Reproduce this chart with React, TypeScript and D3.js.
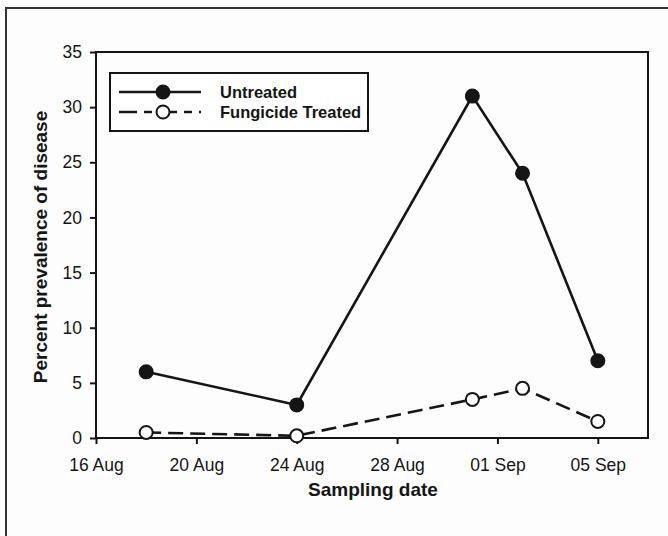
import React, { useEffect, useRef } from 'react';
import * as d3 from 'd3';

const sampleDates = ['2009-08-18', '2009-08-24', '2009-08-31', '2009-09-02', '2009-09-05'];
const untreated = [6, 3, 31, 24, 7];
const fungicideTreated = [0.5, 0.2, 3.5, 4.5, 1.5];
const xTickDates = ['2009-08-16', '2009-08-20', '2009-08-24', '2009-08-28', '2009-09-01', '2009-09-05'];
const yTicks = [0, 5, 10, 15, 20, 25, 30, 35];

const parse = d3.timeParse('%Y-%m-%d');

const App = () => {
  const svgRef = useRef(null);

  useEffect(() => {
    const svg = d3.select(svgRef.current);
    const width = 668;
    const height = 536;
    const margin = { top: 52, right: 20, bottom: 98, left: 96 };
    const font = '"Liberation Sans", Arial, sans-serif';
    const ink = '#151515';

    svg.selectAll('*').remove();

    svg.append('rect').attr('width', width).attr('height', height).attr('fill', '#fdfdfd');

    // scanned page frame (only top and left edges are visible)
    svg
      .append('path')
      .attr('d', `M6,${height} L6,8 L${width},8`)
      .attr('fill', 'none')
      .attr('stroke', '#333')
      .attr('stroke-width', 2);

    const xScale = d3
      .scaleTime()
      .domain([parse('2009-08-16'), parse('2009-09-07')])
      .range([margin.left, width - margin.right]);

    const yScale = d3
      .scaleLinear()
      .domain([0, 35])
      .range([height - margin.bottom, margin.top]);

    // plot frame
    svg
      .append('rect')
      .attr('x', margin.left)
      .attr('y', margin.top)
      .attr('width', width - margin.right - margin.left)
      .attr('height', height - margin.bottom - margin.top)
      .attr('fill', 'none')
      .attr('stroke', ink)
      .attr('stroke-width', 2);

    // x-axis
    const xAxis = svg
      .append('g')
      .attr('transform', `translate(0,${height - margin.bottom})`)
      .call(
        d3
          .axisBottom(xScale)
          .tickValues(xTickDates.map((d) => parse(d)))
          .tickFormat(d3.timeFormat('%d %b'))
          .tickSize(6)
          .tickSizeOuter(0)
      );
    xAxis.select('.domain').remove();
    xAxis.selectAll('line').attr('stroke', ink).attr('stroke-width', 2);
    xAxis
      .selectAll('text')
      .attr('font-family', font)
      .attr('font-size', 17.5)
      .attr('fill', ink)
      .attr('y', 21);

    // y-axis
    const yAxis = svg
      .append('g')
      .attr('transform', `translate(${margin.left},0)`)
      .call(d3.axisLeft(yScale).tickValues(yTicks).tickSize(6).tickSizeOuter(0));
    yAxis.select('.domain').remove();
    yAxis.selectAll('line').attr('stroke', ink).attr('stroke-width', 2);
    yAxis
      .selectAll('text')
      .attr('font-family', font)
      .attr('font-size', 17.5)
      .attr('fill', ink)
      .attr('x', -14);

    // axis titles
    svg
      .append('text')
      .attr('x', 373)
      .attr('y', 496)
      .attr('text-anchor', 'middle')
      .attr('font-family', font)
      .attr('font-weight', 'bold')
      .attr('font-size', 19)
      .attr('fill', ink)
      .text('Sampling date');

    svg
      .append('text')
      .attr('transform', `translate(47,${(margin.top + height - margin.bottom) / 2 + 2}) rotate(-90)`)
      .attr('text-anchor', 'middle')
      .attr('font-family', font)
      .attr('font-weight', 'bold')
      .attr('font-size', 19)
      .attr('fill', ink)
      .text('Percent prevalence of disease');

    const series = [
      { name: 'Untreated', values: untreated, fill: ink, dash: null },
      { name: 'Fungicide Treated', values: fungicideTreated, fill: '#fff', dash: '15,7' },
    ];

    const line = d3
      .line()
      .x((d) => xScale(d[0]))
      .y((d) => yScale(d[1]));

    series.forEach((s) => {
      const pts = sampleDates.map((d, i) => [parse(d), s.values[i]]);
      svg
        .append('path')
        .attr('d', line(pts))
        .attr('fill', 'none')
        .attr('stroke', ink)
        .attr('stroke-width', 2.6)
        .attr('stroke-dasharray', s.dash);
      svg
        .selectAll(null)
        .data(pts)
        .enter()
        .append('circle')
        .attr('cx', (d) => xScale(d[0]))
        .attr('cy', (d) => yScale(d[1]))
        .attr('r', 6.5)
        .attr('fill', s.fill)
        .attr('stroke', ink)
        .attr('stroke-width', 2);
    });

    // legend
    const legend = svg.append('g').attr('transform', 'translate(110,73)');
    legend
      .append('rect')
      .attr('width', 258)
      .attr('height', 58)
      .attr('fill', '#fff')
      .attr('stroke', ink)
      .attr('stroke-width', 2);
    series.forEach((s, i) => {
      const y = 19 + i * 20;
      legend
        .append('line')
        .attr('x1', 9)
        .attr('x2', 91)
        .attr('y1', y)
        .attr('y2', y)
        .attr('stroke', ink)
        .attr('stroke-width', 2.6)
        .attr('stroke-dasharray', s.dash ? '18,7,8,7' : null);
      legend
        .append('circle')
        .attr('cx', 53)
        .attr('cy', y)
        .attr('r', 6.5)
        .attr('fill', s.fill)
        .attr('stroke', ink)
        .attr('stroke-width', 2);
      legend
        .append('text')
        .attr('x', 110)
        .attr('y', y)
        .attr('dy', '0.36em')
        .attr('font-family', font)
        .attr('font-weight', 'bold')
        .attr('font-size', 16.5)
        .attr('fill', ink)
        .text(s.name);
    });

    return () => {
      svg.selectAll('*').remove();
    };
  }, []);

  return (
    <svg
      ref={svgRef}
      width={668}
      height={536}
      style={{ position: 'absolute', left: 0, top: 0, display: 'block' }}
    ></svg>
  );
};

export default App;
